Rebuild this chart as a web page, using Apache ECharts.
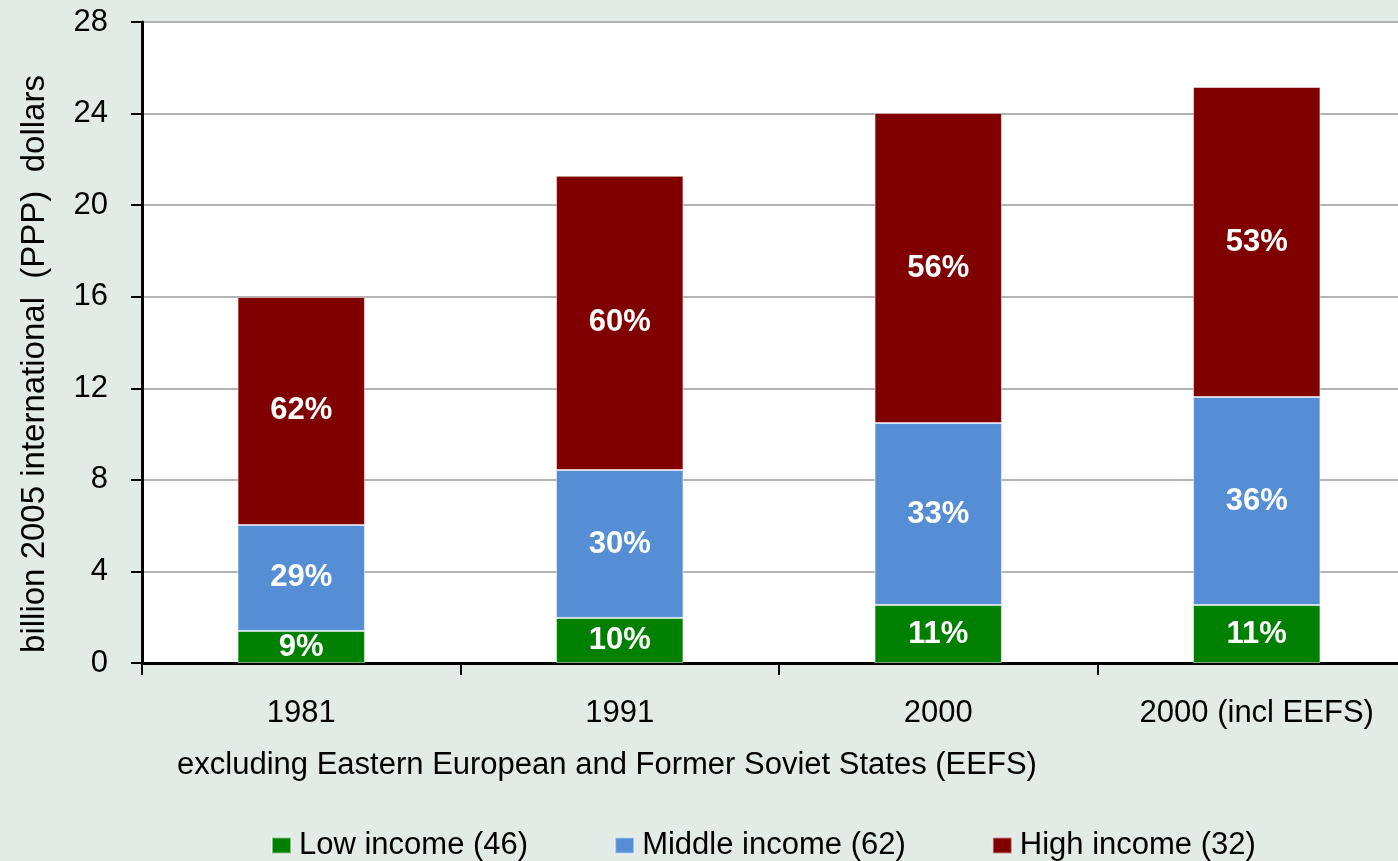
<!DOCTYPE html>
<html>
<head>
<meta charset="utf-8">
<script src="https://cdn.jsdelivr.net/npm/echarts@6/dist/echarts.min.js"></script>
<style>
html,body{margin:0;padding:0;background:#e2ebe6;}
#c{width:1398px;height:861px;}
</style>
</head>
<body>
<div id="c"></div>
<script>
const categories = ['1981', '1991', '2000', '2000 (incl EEFS)'];
const lowIncome = [1.40, 1.97, 2.53, 2.53];
const middleIncome = [4.63, 6.46, 7.95, 9.09];
const highIncome = [9.96, 12.85, 13.55, 13.54];
const lowPct = ['9%', '10%', '11%', '11%'];
const middlePct = ['29%', '30%', '33%', '36%'];
const highPct = ['62%', '60%', '56%', '53%'];
const seriesNames = ['Low income (46)', 'Middle income (62)', 'High income (32)'];
const yTicks = [0, 4, 8, 12, 16, 20, 24, 28];

const FONT = '"Liberation Sans", Arial, sans-serif';
const FS = 31;
const chart = echarts.init(document.getElementById('c'));

function mk(name, vals, pcts, color) {
  return {
    name: name,
    type: 'bar',
    stack: 'total',
    barWidth: '40%',
    itemStyle: { color: color, borderColor: 'rgba(255,255,255,0.5)', borderWidth: 1 },
    label: {
      show: true,
      position: 'inside',
      color: '#ffffff',
      fontWeight: 'bold',
      fontSize: 31,
      fontFamily: FONT,
      formatter: p => pcts[p.dataIndex]
    },
    data: vals
  };
}

chart.setOption({
  backgroundColor: '#e2ebe6',
  animation: false,
  grid: { left: 142, top: 22, width: 1274, height: 641, containLabel: false,
          outerBoundsMode: 'none',
          backgroundColor: '#ffffff', show: true, borderWidth: 0 },
  legend: {
    left: 266,
    top: 825,
    itemWidth: 19,
    itemHeight: 16,
    itemGap: 86,
    icon: 'rect',
    textStyle: { fontSize: FS, color: '#000', fontFamily: FONT, padding: [0, 0, 0, 3] },
    data: seriesNames
  },
  xAxis: {
    type: 'category',
    data: categories,
    axisLine: { lineStyle: { color: '#000', width: 3 } },
    axisTick: { show: true, length: 12, lineStyle: { color: '#000', width: 2 } },
    axisLabel: { fontSize: FS, color: '#000', fontFamily: FONT, margin: 35 }
  },
  yAxis: {
    type: 'value',
    min: 0, max: 28, interval: 4,
    axisLine: { show: true, lineStyle: { color: '#000', width: 3 } },
    axisTick: { show: true, inside: false, length: 11, lineStyle: { color: '#000', width: 2 } },
    axisLabel: { fontSize: FS, color: '#000', fontFamily: FONT, margin: 34,
                 formatter: v => yTicks.includes(v) ? String(v) : '' },
    splitLine: { show: true, lineStyle: { color: '#b3b3b3', width: 2 } }
  },
  graphic: [
    {
      type: 'text',
      x: 35, y: 364,
      rotation: Math.PI / 2,
      style: {
        text: 'billion 2005 international  (PPP)  dollars',
        fontSize: 33, fontFamily: FONT, fill: '#000',
        textAlign: 'center', textVerticalAlign: 'middle'
      }
    },
    {
      type: 'text',
      x: 607, y: 765,
      style: {
        text: 'excluding Eastern European and Former Soviet States (EEFS)',
        fontSize: FS, fontFamily: FONT, fill: '#000',
        textAlign: 'center', textVerticalAlign: 'middle'
      }
    }
  ],
  series: [
    mk(seriesNames[0], lowIncome, lowPct, '#008000'),
    mk(seriesNames[1], middleIncome, middlePct, '#558ed5'),
    mk(seriesNames[2], highIncome, highPct, '#800000')
  ]
});
</script>
</body>
</html>
